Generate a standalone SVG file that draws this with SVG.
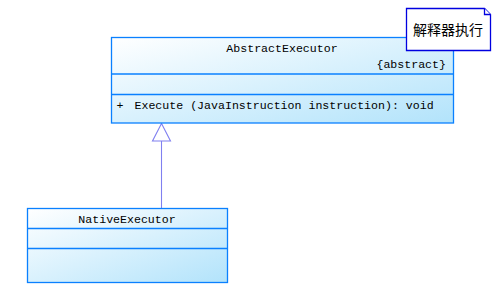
<svg xmlns="http://www.w3.org/2000/svg" width="501" height="292" viewBox="0 0 501 292">
  <defs>
    <linearGradient id="classFill" x1="0" y1="0" x2="1" y2="1">
      <stop offset="0" stop-color="#ffffff"/>
      <stop offset="1" stop-color="#b2e3fb"/>
    </linearGradient>
    <style>
      .cls { fill: url(#classFill); stroke: #0a80ff; stroke-width: 1.3; }
      .sep { stroke: #0a80ff; stroke-width: 1.3; fill: none; }
      .mono { font-family: "Liberation Mono", "DejaVu Sans Mono", monospace; font-size: 11.6px; fill: #000; }
      .note { fill: #ffffff; stroke: #0000e0; stroke-width: 1.3; }
      .cjk { font-family: "Noto Sans CJK SC", sans-serif; font-size: 14px; fill: #000; }
      .gen { stroke: #8080f0; stroke-width: 1.1; fill: none; }
      .genHead { stroke: #8080f0; stroke-width: 1.1; fill: #ffffff; }
    </style>
  </defs>

  <!-- generalization: NativeExecutor extends AbstractExecutor -->
  <g id="connectors">
    <line class="gen" x1="161.5" y1="141" x2="161.5" y2="208.5"/>
    <polygon class="genHead" points="161.5,123.5 152.5,141 170.5,141"/>
  </g>

  <g id="AbstractExecutor">
    <rect class="cls" x="111.5" y="37.5" width="342" height="85.5"/>
    <line class="sep" x1="111.5" y1="74" x2="453.5" y2="74"/>
    <line class="sep" x1="111.5" y1="94.5" x2="453.5" y2="94.5"/>
    <text class="mono" x="282" y="52" text-anchor="middle">AbstractExecutor</text>
    <text class="mono" x="446" y="67.5" text-anchor="end">{abstract}</text>
    <text class="mono" x="116.5" y="108.5">+</text>
    <text class="mono" x="134.5" y="108.5">Execute (JavaInstruction instruction): void</text>
  </g>

  <g id="NativeExecutor">
    <rect class="cls" x="27.5" y="208.5" width="200" height="74"/>
    <line class="sep" x1="27.5" y1="228.5" x2="227.5" y2="228.5"/>
    <line class="sep" x1="27.5" y1="248.5" x2="227.5" y2="248.5"/>
    <text class="mono" x="127" y="222.5" text-anchor="middle">NativeExecutor</text>
  </g>

  <g id="note">
    <path class="note" d="M406.5,8.5 H484.5 L490.5,14.5 V50.5 H406.5 Z"/>
    <path class="note" d="M484.5,8.5 V14.5 H490.5" fill="none"/>
    <text class="cjk" x="413" y="35">解释器执行</text>
  </g>
</svg>
